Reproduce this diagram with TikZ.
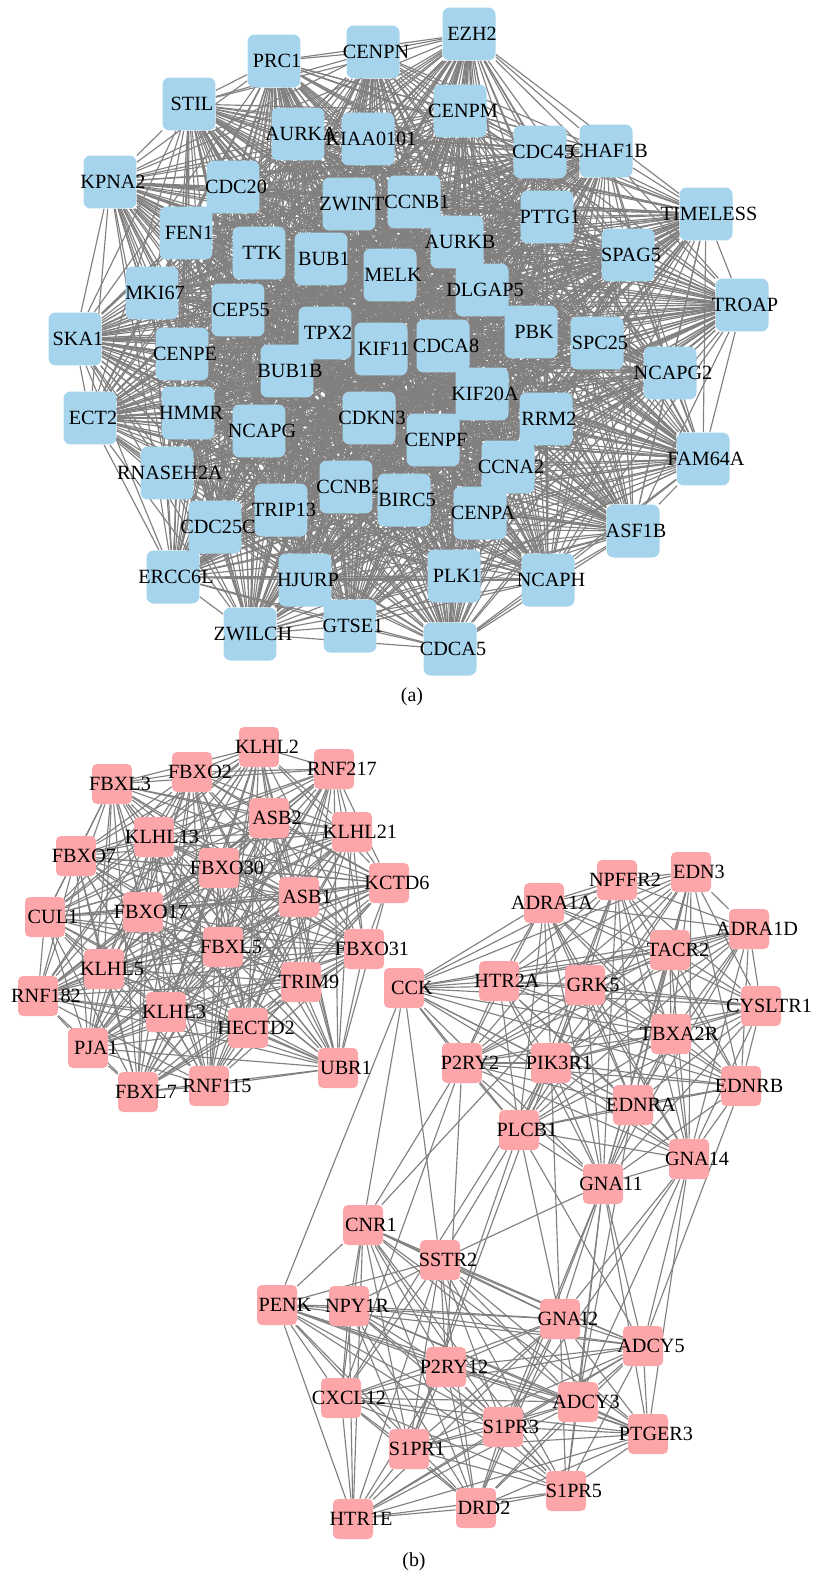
\documentclass[tikz,border=0pt]{standalone}
\usepackage{fontspec}
\setmainfont{Liberation Serif}
\usetikzlibrary{backgrounds}

\definecolor{geneblue}{RGB}{167,212,237}
\definecolor{genepink}{RGB}{253,166,169}
\definecolor{linkgray}{RGB}{130,127,127}
\newcommand{\genelbl}[1]{\makebox[0pt]{#1}}

\tikzset{
  gene/.style={rectangle, inner sep=0pt, draw=none, font=\fontsize{11.5}{13}\selectfont},
  geneA/.style={gene, fill=geneblue, minimum size=1.06cm, rounded corners=4pt,
    execute at begin node=\hspace*{0.12cm}},
  geneB/.style={gene, fill=genepink, minimum size=0.8cm, rounded corners=2.8pt,
    execute at begin node=\hspace*{0.32cm}},
  link/.style={draw=linkgray, line width=0.65pt},
  caption/.style={font=\fontsize{11.3}{13}\selectfont}
}

\def\cellcycle{EZH2,CENPN,PRC1,STIL,CENPM,AURKA,KIAA0101,CDC45,CHAF1B,KPNA2,CDC20,ZWINT,CCNB1,PTTG1,TIMELESS,FEN1,TTK,BUB1,AURKB,MELK,SPAG5,MKI67,DLGAP5,CEP55,TROAP,SKA1,TPX2,PBK,SPC25,KIF11,CDCA8,CENPE,NCAPG2,BUB1B,KIF20A,ECT2,HMMR,NCAPG,RRM2,CDKN3,CENPF,RNASEH2A,FAM64A,CCNA2,CCNB2,BIRC5,TRIP13,CDC25C,CENPA,ASF1B,ERCC6L,HJURP,PLK1,NCAPH,ZWILCH,GTSE1,CDCA5}
\def\ligases{KLHL2,FBXO2,FBXL3,RNF217,ASB2,KLHL13,KLHL21,FBXO7,FBXO30,KCTD6,ASB1,CUL1,FBXO17,FBXL5,FBXO31,KLHL5,TRIM9,RNF182,KLHL3,HECTD2,PJA1,UBR1,RNF115,FBXL7}
\def\gqgroup{CCK,NPFFR2,EDN3,ADRA1A,ADRA1D,TACR2,HTR2A,GRK5,CYSLTR1,TBXA2R,P2RY2,PIK3R1,EDNRB,EDNRA,PLCB1,GNA14,GNA11}
\def\gigroup{CNR1,SSTR2,PENK,NPY1R,GNAI2,ADCY5,P2RY12,CXCL12,ADCY3,S1PR3,PTGER3,S1PR1,S1PR5,DRD2,HTR1E}

\begin{document}
\begin{tikzpicture}[x=0.02cm, y=-0.02cm]
\useasboundingbox (0,0) rectangle (816,1575);

\node[geneA] (EZH2) at (469,34) {\genelbl{EZH2}};
\node[geneA] (CENPN) at (373,52) {\genelbl{CENPN}};
\node[geneA] (PRC1) at (274,61) {\genelbl{PRC1}};
\node[geneA] (STIL) at (189,104) {\genelbl{STIL}};
\node[geneA] (CENPM) at (460,111) {\genelbl{CENPM}};
\node[geneA] (AURKA) at (298,134) {\genelbl{AURKA}};
\node[geneA] (KIAA0101) at (368,139) {\genelbl{KIAA0101}};
\node[geneA] (CDC45) at (540,152) {\genelbl{CDC45}};
\node[geneA] (CHAF1B) at (606,151) {\genelbl{CHAF1B}};
\node[geneA] (KPNA2) at (110,182) {\genelbl{KPNA2}};
\node[geneA] (CDC20) at (233,187) {\genelbl{CDC20}};
\node[geneA] (ZWINT) at (349,204) {\genelbl{ZWINT}};
\node[geneA] (CCNB1) at (414,202) {\genelbl{CCNB1}};
\node[geneA] (PTTG1) at (547,217) {\genelbl{PTTG1}};
\node[geneA] (TIMELESS) at (706,214) {\genelbl{TIMELESS}};
\node[geneA] (FEN1) at (186,233) {\genelbl{FEN1}};
\node[geneA] (TTK) at (259,253) {\genelbl{TTK}};
\node[geneA] (BUB1) at (321,259) {\genelbl{BUB1}};
\node[geneA] (AURKB) at (457,242) {\genelbl{AURKB}};
\node[geneA] (MELK) at (390,275) {\genelbl{MELK}};
\node[geneA] (SPAG5) at (628,255) {\genelbl{SPAG5}};
\node[geneA] (MKI67) at (152,293) {\genelbl{MKI67}};
\node[geneA] (DLGAP5) at (482,290) {\genelbl{DLGAP5}};
\node[geneA] (CEP55) at (238,310) {\genelbl{CEP55}};
\node[geneA] (TROAP) at (742,305) {\genelbl{TROAP}};
\node[geneA] (SKA1) at (75,339) {\genelbl{SKA1}};
\node[geneA] (TPX2) at (325,333) {\genelbl{TPX2}};
\node[geneA] (PBK) at (531,332) {\genelbl{PBK}};
\node[geneA] (SPC25) at (597,343) {\genelbl{SPC25}};
\node[geneA] (KIF11) at (381,349) {\genelbl{KIF11}};
\node[geneA] (CDCA8) at (443,346) {\genelbl{CDCA8}};
\node[geneA] (CENPE) at (182,354) {\genelbl{CENPE}};
\node[geneA] (NCAPG2) at (670,373) {\genelbl{NCAPG2}};
\node[geneA] (BUB1B) at (287,371) {\genelbl{BUB1B}};
\node[geneA] (KIF20A) at (482,394) {\genelbl{KIF20A}};
\node[geneA] (ECT2) at (90,418) {\genelbl{ECT2}};
\node[geneA] (HMMR) at (188,413) {\genelbl{HMMR}};
\node[geneA] (NCAPG) at (259,431) {\genelbl{NCAPG}};
\node[geneA] (RRM2) at (546,419) {\genelbl{RRM2}};
\node[geneA] (CDKN3) at (369,418) {\genelbl{CDKN3}};
\node[geneA] (CENPF) at (433,440) {\genelbl{CENPF}};
\node[geneA] (RNASEH2A) at (167,473) {\genelbl{RNASEH2A}};
\node[geneA] (FAM64A) at (703,459) {\genelbl{FAM64A}};
\node[geneA] (CCNA2) at (508,467) {\genelbl{CCNA2}};
\node[geneA] (CCNB2) at (346,487) {\genelbl{CCNB2}};
\node[geneA] (BIRC5) at (404,500) {\genelbl{BIRC5}};
\node[geneA] (TRIP13) at (281,510) {\genelbl{TRIP13}};
\node[geneA] (CDC25C) at (215,527) {\genelbl{CDC25C}};
\node[geneA] (CENPA) at (480,513) {\genelbl{CENPA}};
\node[geneA] (ASF1B) at (633,531) {\genelbl{ASF1B}};
\node[geneA] (ERCC6L) at (173,577) {\genelbl{ERCC6L}};
\node[geneA] (HJURP) at (305,580) {\genelbl{HJURP}};
\node[geneA] (PLK1) at (454,576) {\genelbl{PLK1}};
\node[geneA] (NCAPH) at (548,580) {\genelbl{NCAPH}};
\node[geneA] (ZWILCH) at (250,634) {\genelbl{ZWILCH}};
\node[geneA] (GTSE1) at (350,626) {\genelbl{GTSE1}};
\node[geneA] (CDCA5) at (450,649) {\genelbl{CDCA5}};

\node[caption] (capA) at (412,697) {(a)};

\node[geneB] (KLHL2) at (259,747) {\genelbl{KLHL2}};
\node[geneB] (FBXO2) at (192,772) {\genelbl{FBXO2}};
\node[geneB] (FBXL3) at (112,784) {\genelbl{FBXL3}};
\node[geneB] (RNF217) at (334,769) {\genelbl{RNF217}};
\node[geneB] (ASB2) at (269,818) {\genelbl{ASB2}};
\node[geneB] (KLHL13) at (154,837) {\genelbl{KLHL13}};
\node[geneB] (KLHL21) at (352,832) {\genelbl{KLHL21}};
\node[geneB] (FBXO7) at (76,856) {\genelbl{FBXO7}};
\node[geneB] (FBXO30) at (219,868) {\genelbl{FBXO30}};
\node[geneB] (KCTD6) at (389,883) {\genelbl{KCTD6}};
\node[geneB] (ASB1) at (299,897) {\genelbl{ASB1}};
\node[geneB] (CUL1) at (45,917) {\genelbl{CUL1}};
\node[geneB] (FBXO17) at (143,912) {\genelbl{FBXO17}};
\node[geneB] (FBXL5) at (223,947) {\genelbl{FBXL5}};
\node[geneB] (FBXO31) at (364,949) {\genelbl{FBXO31}};
\node[geneB] (KLHL5) at (104,969) {\genelbl{KLHL5}};
\node[geneB] (TRIM9) at (301,982) {\genelbl{TRIM9}};
\node[geneB] (RNF182) at (38,996) {\genelbl{RNF182}};
\node[geneB] (KLHL3) at (166,1012) {\genelbl{KLHL3}};
\node[geneB] (HECTD2) at (248,1028) {\genelbl{HECTD2}};
\node[geneB] (PJA1) at (88,1048) {\genelbl{PJA1}};
\node[geneB] (UBR1) at (338,1068) {\genelbl{UBR1}};
\node[geneB] (RNF115) at (209,1086) {\genelbl{RNF115}};
\node[geneB] (FBXL7) at (138,1092) {\genelbl{FBXL7}};

\node[geneB] (NPFFR2) at (617,880) {\genelbl{NPFFR2}};
\node[geneB] (EDN3) at (691,872) {\genelbl{EDN3}};
\node[geneB] (ADRA1A) at (544,903) {\genelbl{ADRA1A}};
\node[geneB] (ADRA1D) at (749,929) {\genelbl{ADRA1D}};
\node[geneB] (TACR2) at (670,950) {\genelbl{TACR2}};
\node[geneB] (HTR2A) at (499,981) {\genelbl{HTR2A}};
\node[geneB] (GRK5) at (585,985) {\genelbl{GRK5}};
\node[geneB] (CYSLTR1) at (761,1006) {\genelbl{CYSLTR1}};
\node[geneB] (TBXA2R) at (671,1034) {\genelbl{TBXA2R}};
\node[geneB] (CCK) at (404,988) {\genelbl{CCK}};
\node[geneB] (P2RY2) at (462,1063) {\genelbl{P2RY2}};
\node[geneB] (PIK3R1) at (551,1063) {\genelbl{PIK3R1}};
\node[geneB] (EDNRB) at (741,1086) {\genelbl{EDNRB}};
\node[geneB] (EDNRA) at (633,1105) {\genelbl{EDNRA}};
\node[geneB] (PLCB1) at (519,1130) {\genelbl{PLCB1}};
\node[geneB] (GNA14) at (689,1159) {\genelbl{GNA14}};
\node[geneB] (GNA11) at (603,1184) {\genelbl{GNA11}};

\node[geneB] (CNR1) at (363,1225) {\genelbl{CNR1}};
\node[geneB] (SSTR2) at (440,1260) {\genelbl{SSTR2}};
\node[geneB] (PENK) at (277,1305) {\genelbl{PENK}};
\node[geneB] (NPY1R) at (349,1306) {\genelbl{NPY1R}};
\node[geneB] (GNAI2) at (560,1319) {\genelbl{GNAI2}};
\node[geneB] (ADCY5) at (643,1346) {\genelbl{ADCY5}};
\node[geneB] (P2RY12) at (446,1367) {\genelbl{P2RY12}};
\node[geneB] (CXCL12) at (341,1398) {\genelbl{CXCL12}};
\node[geneB] (ADCY3) at (578,1402) {\genelbl{ADCY3}};
\node[geneB] (S1PR3) at (503,1427) {\genelbl{S1PR3}};
\node[geneB] (PTGER3) at (648,1434) {\genelbl{PTGER3}};
\node[geneB] (S1PR1) at (409,1449) {\genelbl{S1PR1}};
\node[geneB] (S1PR5) at (566,1491) {\genelbl{S1PR5}};
\node[geneB] (DRD2) at (476,1508) {\genelbl{DRD2}};
\node[geneB] (HTR1E) at (353,1519) {\genelbl{HTR1E}};

\node[caption] (capB) at (414,1562) {(b)};

\begin{pgfonlayer}{background}
\foreach \a [count=\i] in \cellcycle {
  \foreach \b [count=\j] in \cellcycle {
    \ifnum\j>\i \draw[link] (\a) -- (\b); \fi
  }
}
\foreach \a [count=\i] in \ligases {
  \foreach \b [count=\j] in \ligases {
    \ifnum\j>\i \draw[link] (\a) -- (\b); \fi
  }
}
\foreach \a [count=\i] in \gqgroup {
  \foreach \b [count=\j] in \gqgroup {
    \ifnum\j>\i \draw[link] (\a) -- (\b); \fi
  }
}
\foreach \a [count=\i] in \gigroup {
  \foreach \b [count=\j] in \gigroup {
    \ifnum\j>\i \draw[link] (\a) -- (\b); \fi
  }
}
\foreach \a/\b in {CCK/PENK, CCK/CNR1, CCK/SSTR2, P2RY2/CNR1, P2RY2/CXCL12,
  P2RY2/P2RY12, GRK5/CNR1, PIK3R1/GNAI2, PIK3R1/CXCL12, PIK3R1/S1PR1,
  PLCB1/SSTR2, PLCB1/GNAI2, PLCB1/ADCY5, PLCB1/S1PR1, GNA11/SSTR2,
  GNA11/GNAI2, GNA11/ADCY5, GNA11/ADCY3, GNA11/S1PR3, GNA11/PTGER3,
  GNA11/S1PR5, GNA11/DRD2, GNA14/GNAI2, GNA14/ADCY5, GNA14/ADCY3,
  GNA14/PTGER3, GNA14/S1PR3, EDNRA/ADCY3, EDNRB/ADCY5}
  \draw[link] (\a) -- (\b);
\end{pgfonlayer}
\end{tikzpicture}
\end{document}
